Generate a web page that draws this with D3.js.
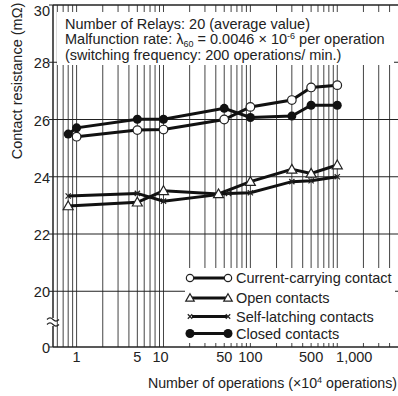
<!DOCTYPE html>
<html><head><meta charset="utf-8">
<script src="https://cdn.jsdelivr.net/npm/d3@7"></script>
<style>
body{margin:0;background:#fff;}
svg text{font-family:"Liberation Sans",Arial,sans-serif;fill:#222;}
</style></head>
<body><svg id="c" width="398" height="396"></svg>
<script>
// ---- data ----
const seriesNames = ["Current-carrying contact","Open contacts","Self-latching contacts","Closed contacts"];
const currentX = [1, 5, 10, 50, 100, 300, 500, 1000];
const currentY = [25.40, 25.63, 25.65, 26.00, 26.44, 26.68, 27.12, 27.20];
const openX = [0.8, 5, 10, 43, 100, 300, 500, 1000];
const openY = [22.98, 23.11, 23.51, 23.40, 23.83, 24.26, 24.12, 24.41];
const selfX = [0.8, 5, 10, 56, 100, 300, 500, 1000];
const selfY = [23.33, 23.42, 23.15, 23.42, 23.44, 23.83, 23.86, 24.00];
const closedX = [0.8, 1, 5, 10, 50, 100, 300, 500, 1000];
const closedY = [25.49, 25.71, 26.01, 26.01, 26.39, 26.07, 26.12, 26.50, 26.50];
const yTicks = [0, 20, 22, 24, 26, 28, 30];
const xTickVals = [1, 5, 10, 50, 100, 500, 1000];
const xTickLabels = ["1", "5", "10", "50", "100", "500", "1,000"];
const infoLines = ["Number of Relays: 20 (average value)", "Malfunction rate: λ", "(switching frequency: 200 operations/ min.)"];

const svg = d3.select("#c");
const L = 53, R = 398, T = 5, B = 347;
const x = d3.scaleLog().domain([0.535, 5000]).range([L, R]);
const y = d3.scaleLinear().domain([0, 20, 30]).range([B, 291.3, T]);
const FS = 14.5;

// vertical grid
const gridX = [];
[0.1, 1, 10, 100, 1000].forEach(d => { for (let k = 1; k <= 9; k++) { const v = d * k; if (v > 0.55 && v < 4900) gridX.push(v); } });
svg.append("g").selectAll("line").data(gridX).join("line")
  .attr("x1", d => x(d)).attr("x2", d => x(d)).attr("y1", T).attr("y2", B)
  .attr("stroke", "#444").attr("stroke-width", 1);
// horizontal grid
svg.append("g").selectAll("line").data([20, 22, 24, 26, 28]).join("line")
  .attr("x1", L).attr("x2", R).attr("y1", d => y(d)).attr("y2", d => y(d))
  .attr("stroke", "#222").attr("stroke-width", 1.1);

// white boxes
svg.append("rect").attr("x", 57).attr("y", 12).attr("width", 337).attr("height", 53).attr("fill", "#fff");
svg.append("rect").attr("x", 185).attr("y", 268).attr("width", 210).attr("height", 75).attr("fill", "#fff");

// frame
svg.append("line").attr("x1", L).attr("x2", R).attr("y1", T).attr("y2", T).attr("stroke", "#222").attr("stroke-width", 1.5);
svg.append("line").attr("x1", L).attr("x2", R).attr("y1", B).attr("y2", B).attr("stroke", "#222").attr("stroke-width", 1.5);
svg.append("line").attr("x1", L).attr("x2", L).attr("y1", T).attr("y2", B).attr("stroke", "#222").attr("stroke-width", 1.5);

// y axis ticks & labels
const yg = svg.append("g");
yg.selectAll("line").data(yTicks).join("line")
  .attr("x1", L - 4).attr("x2", L).attr("y1", d => y(d)).attr("y2", d => y(d)).attr("stroke", "#222");
yg.selectAll("text").data(yTicks).join("text")
  .attr("x", 50).attr("y", d => d === 30 ? 16 : y(d) + 6).attr("text-anchor", "end").attr("font-size", FS).text(d => d);
// axis break
svg.append("rect").attr("x", L - 2).attr("y", 318).attr("width", 4).attr("height", 8).attr("fill", "#fff");
svg.append("path").attr("d", "M47,319.5 q3,-3 6,0 t6,0 M47,324.5 q3,-3 6,0 t6,0")
  .attr("fill", "none").attr("stroke", "#222").attr("stroke-width", 1.2);

// x labels
svg.append("g").selectAll("text").data(xTickVals).join("text")
  .attr("x", (d, i) => x(d) + (d === 1000 ? 17 : (d === 10 ? -3 : 0)))
  .attr("y", 362).attr("text-anchor", "middle").attr("font-size", FS)
  .text((d, i) => xTickLabels[i]);

// titles
const xt = svg.append("text").attr("x", 397).attr("y", 388).attr("text-anchor", "end").attr("font-size", 14.2);
xt.append("tspan").text("Number of operations (×10");
xt.append("tspan").attr("font-size", 9).attr("dy", -5).text("4");
xt.append("tspan").attr("dy", 5).text(" operations)");
svg.append("text").attr("transform", "translate(22,81) rotate(-90)").attr("text-anchor", "middle")
  .attr("font-size", FS).text("Contact resistance (mΩ)");

// info text
svg.append("text").attr("x", 65).attr("y", 29).attr("font-size", FS).text(infoLines[0]);
const t2 = svg.append("text").attr("x", 65).attr("y", 44).attr("font-size", FS);
t2.append("tspan").text(infoLines[1]);
t2.append("tspan").attr("font-size", 9).attr("dy", 2.5).text("60");
t2.append("tspan").attr("dy", -2.5).text(" = 0.0046 × 10");
t2.append("tspan").attr("font-size", 9).attr("dy", -5).text("-6");
t2.append("tspan").attr("dy", 5).text(" per operation");
svg.append("text").attr("x", 65).attr("y", 60).attr("font-size", FS).text(infoLines[2]);

// series
const series = [
  {name: seriesNames[0], xs: currentX, ys: currentY, m: "oc"},
  {name: seriesNames[1], xs: openX, ys: openY, m: "tri"},
  {name: seriesNames[2], xs: selfX, ys: selfY, m: "x"},
  {name: seriesNames[3], xs: closedX, ys: closedY, m: "fc"}
];
const line = d3.line().x(d => x(d[0])).y(d => y(d[1]));
function marker(g, type, cx, cy, s) {
  s = s || 1;
  if (type === "oc") g.append("circle").attr("cx", cx).attr("cy", cy).attr("r", 4.3 * s).attr("fill", "#fff").attr("stroke", "#222").attr("stroke-width", 1.2);
  else if (type === "fc") g.append("circle").attr("cx", cx).attr("cy", cy).attr("r", 4.5 * s).attr("fill", "#111");
  else if (type === "tri") { const a = 5 * s; g.append("path").attr("d", `M${cx},${cy - a} L${cx + a},${cy + a * 0.75} L${cx - a},${cy + a * 0.75}Z`).attr("fill", "#fff").attr("stroke", "#222").attr("stroke-width", 1.2); }
  else { const a = 2.6 * s; g.append("path").attr("d", `M${cx - a},${cy - a}L${cx + a},${cy + a}M${cx - a},${cy + a}L${cx + a},${cy - a}`).attr("stroke", "#222").attr("stroke-width", 1.2).attr("fill", "none"); }
}
series.forEach(s => {
  const pts = s.xs.map((v, i) => [v, s.ys[i]]);
  svg.append("path").datum(pts).attr("d", line).attr("fill", "none").attr("stroke", "#111").attr("stroke-width", 3);
});
series.forEach(s => {
  const g = svg.append("g");
  s.xs.forEach((v, i) => marker(g, s.m, x(v), y(s.ys[i])));
});

// legend
const legY = [278, 298, 316.5, 333.5];
series.forEach((s, i) => {
  const g = svg.append("g");
  g.append("line").attr("x1", 192).attr("x2", 227).attr("y1", legY[i]).attr("y2", legY[i]).attr("stroke", "#111").attr("stroke-width", 3);
  marker(g, s.m, 190, legY[i], s.m === "fc" ? 1 : 0.85);
  marker(g, s.m, 228, legY[i], s.m === "fc" ? 1 : 0.85);
  g.append("text").attr("x", 236).attr("y", legY[i] + 5).attr("font-size", FS).text(s.name);
});
</script></body></html>
